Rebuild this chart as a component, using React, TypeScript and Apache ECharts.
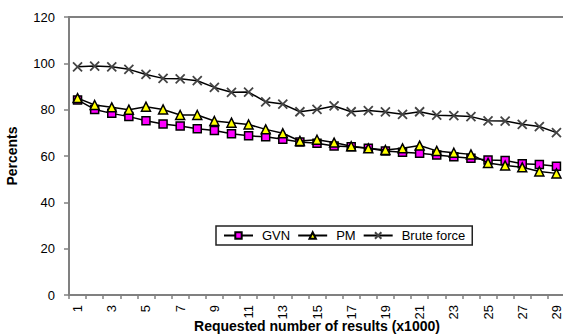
import React, { useEffect, useRef } from "react";
import * as echarts from "echarts";

const categories = Array.from({ length: 29 }, (_, i) => String(i + 1));
const gvn = [84.2, 80.1, 78.4, 77.0, 75.2, 73.8, 72.9, 71.8, 71.0, 69.6, 68.7, 68.3, 67.2, 66.0, 65.5, 64.3, 64.0, 63.3, 62.2, 61.6, 61.2, 60.4, 59.7, 59.0, 58.3, 58.1, 56.7, 56.3, 55.6];
const pm = [85.0, 82.0, 81.0, 80.0, 81.3, 80.1, 77.7, 77.7, 75.1, 74.4, 73.6, 71.5, 69.8, 66.5, 67.0, 65.8, 64.2, 63.3, 62.6, 63.3, 64.5, 62.2, 61.4, 60.7, 57.0, 55.9, 55.1, 53.3, 52.5];
const brute = [98.5, 98.8, 98.5, 97.4, 95.2, 93.5, 93.3, 92.5, 89.6, 87.5, 87.6, 83.4, 82.4, 79.1, 80.1, 81.6, 79.1, 79.6, 79.0, 78.0, 79.1, 77.6, 77.4, 77.0, 75.2, 75.1, 73.7, 72.7, 70.1];

const FONT = "'Liberation Sans', Arial, sans-serif";

export default function App() {
  const ref = useRef<HTMLDivElement>(null);
  useEffect(() => {
    if (!ref.current) return;
    const chart = echarts.init(ref.current, undefined, { renderer: "svg" });
    const lineStyle = { color: "#000", width: 1.5 };
    chart.setOption({
      animation: false,
      backgroundColor: "#fff",
      textStyle: { fontFamily: FONT },
      grid: {
        left: 69,
        right: -2,
        top: 17,
        bottom: 40,
        show: true,
        borderColor: "#808080",
        borderWidth: 2,
        containLabel: false,
        outerBoundsMode: "none",
      },
      legend: {
        left: 216,
        top: 226,
        orient: "horizontal",
        borderColor: "#222",
        borderWidth: 1.5,
        borderRadius: 0,
        padding: [3, 7],
        itemWidth: 29,
        itemHeight: 8,
        itemGap: 7,
        textStyle: { fontFamily: FONT, fontSize: 13, color: "#000", padding: [0, 0, 0, 4] },
        data: ["GVN", "PM", "Brute force"],
      },
      xAxis: {
        type: "category",
        data: categories,
        boundaryGap: true,
        name: "Requested number of results (x1000)",
        nameLocation: "middle",
        nameGap: 24,
        nameMoveOverlap: false,
        nameTextStyle: { fontFamily: FONT, fontSize: 14, fontWeight: "bold", color: "#000" },
        axisLine: { lineStyle: { color: "#808080", width: 2 } },
        axisTick: { show: true, interval: 0, length: 4, lineStyle: { color: "#808080", width: 1.5 } },
        axisLabel: {
          interval: 1,
          rotate: 90,
          margin: 10,
          fontFamily: FONT,
          fontSize: 13,
          color: "#000",
        },
        splitLine: { show: false },
      },
      yAxis: {
        type: "value",
        min: 0,
        max: 120,
        interval: 20,
        name: "Percents",
        nameLocation: "middle",
        nameGap: 50,
        nameMoveOverlap: false,
        nameRotate: 90,
        nameTextStyle: { fontFamily: FONT, fontSize: 14, fontWeight: "bold", color: "#000" },
        axisLine: { show: true, lineStyle: { color: "#808080", width: 2 } },
        axisTick: { show: true, length: 5, lineStyle: { color: "#808080", width: 1.5 } },
        axisLabel: { margin: 14, fontFamily: FONT, fontSize: 13, color: "#000" },
        splitLine: { show: false },
      },
      series: [
        {
          name: "GVN",
          type: "line",
          data: gvn,
          symbol: "rect",
          symbolSize: 8,
          showAllSymbol: true,
          lineStyle,
          itemStyle: { color: "#FF00FF", borderColor: "#000", borderWidth: 1.5 },
          z: 3,
        },
        {
          name: "PM",
          type: "line",
          data: pm,
          symbol: "triangle",
          symbolSize: 9,
          showAllSymbol: true,
          lineStyle,
          itemStyle: { color: "#FFFF00", borderColor: "#000", borderWidth: 1.5 },
          z: 4,
        },
        {
          name: "Brute force",
          type: "line",
          data: brute,
          symbol: "path://M0,0L10,10M10,0L0,10",
          symbolSize: 9,
          showAllSymbol: true,
          lineStyle,
          itemStyle: { color: "#444", borderColor: "#444", borderWidth: 1.8 },
          z: 2,
        },
      ],
    });
    return () => chart.dispose();
  }, []);
  return (
    <div
      ref={ref}
      style={{ position: "fixed", left: 0, top: 0, width: 563, height: 335, background: "#fff" }}
    />
  );
}
